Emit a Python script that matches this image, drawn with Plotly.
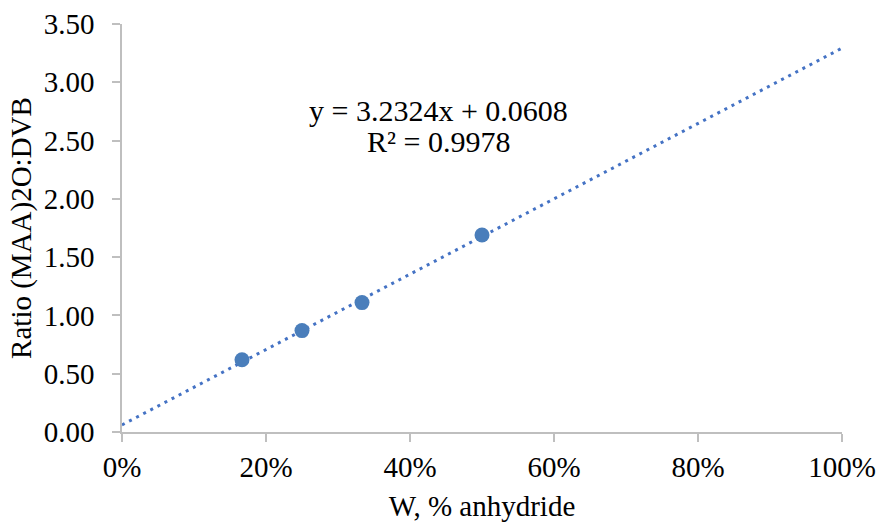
import numpy as np
import plotly.graph_objects as go

# Data
w_anhydride = [1/6, 1/4, 1/3, 1/2]
ratio = [0.62, 0.87, 1.11, 1.69]
slope = 3.2324
intercept = 0.0608
r2 = 0.9978
trend_x = [0.0, 1.0]
x_ticks = [0, 0.2, 0.4, 0.6, 0.8, 1.0]
x_ticklabels = ["0%", "20%", "40%", "60%", "80%", "100%"]
y_ticks = [0, 0.5, 1.0, 1.5, 2.0, 2.5, 3.0, 3.5]
y_ticklabels = ["0.00", "0.50", "1.00", "1.50", "2.00", "2.50", "3.00", "3.50"]

FONT = "Liberation Serif, Times New Roman, serif"
FS = 29
BLUE = "#4A7EBB"

trend_y = [slope * x + intercept for x in trend_x]

fig = go.Figure()
fig.add_trace(go.Scatter(
    x=trend_x, y=trend_y, mode="lines",
    line=dict(color="#4472C4", width=3, dash="3px,5px"),
    hoverinfo="skip", showlegend=False,
))
fig.add_trace(go.Scatter(
    x=w_anhydride, y=ratio, mode="markers",
    marker=dict(color=BLUE, size=15),
    showlegend=False,
))

fig.add_annotation(
    x=0.439, y=2.754, xref="x", yref="y",
    text=f"y = {slope}x + {intercept}",
    showarrow=False, font=dict(family=FONT, size=30, color="black"),
)
fig.add_annotation(
    x=0.439, y=2.496, xref="x", yref="y",
    text=f"R² = {r2}",
    showarrow=False, font=dict(family=FONT, size=30, color="black"),
)

axis_common = dict(
    showgrid=False, zeroline=False, showline=True, automargin=False,
    linecolor="#BFBFBF", linewidth=1.5,
    ticks="outside", ticklen=8, tickwidth=1.5, tickcolor="#BFBFBF",
    tickfont=dict(family=FONT, size=FS, color="black"),
)

fig.update_layout(
    width=877, height=522,
    margin=dict(l=122, r=35, t=24, b=90),
    plot_bgcolor="white", paper_bgcolor="white",
    xaxis=dict(range=[0, 1], tickvals=x_ticks, ticktext=x_ticklabels,
               title=dict(text="W, % anhydride", font=dict(family=FONT, size=FS, color="black"), standoff=15),
               **axis_common),
    yaxis=dict(range=[0, 3.5], tickvals=y_ticks, ticktext=y_ticklabels,
               ticklabelstandoff=12,
               title=dict(text="Ratio (MAA)2O:DVB", font=dict(family=FONT, size=FS, color="black"), standoff=4),
               **axis_common),
)

fig.write_html("out.html")
